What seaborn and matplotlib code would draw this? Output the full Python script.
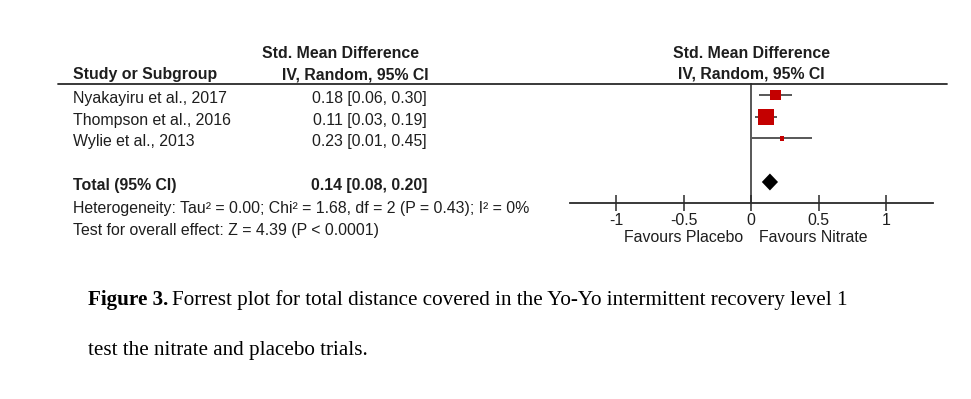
import numpy as np
import pandas as pd
import matplotlib
matplotlib.use("Agg")
import matplotlib.pyplot as plt
from matplotlib.lines import Line2D
import seaborn as sns

# ================= Data =================
studies = ["Nyakayiru et al., 2017", "Thompson et al., 2016", "Wylie et al., 2013"]
smd = [0.18, 0.11, 0.23]
ci_low = [0.06, 0.03, 0.01]
ci_high = [0.30, 0.19, 0.45]

total_label = "Total (95% CI)"
total_smd = 0.14
total_low = 0.08
total_high = 0.20

heterogeneity = "Heterogeneity: Tau\u00b2 = 0.00; Chi\u00b2 = 1.68, df = 2 (P = 0.43); I\u00b2 = 0%"
overall_effect = "Test for overall effect: Z = 4.39 (P < 0.0001)"

x_ticks = [-1, -0.5, 0, 0.5, 1]
x_ticklabels = ["-1", "-0.5", "0", "0.5", "1"]
favours_left = "Favours Placebo"
favours_right = "Favours Nitrate"

caption_bold = "Figure 3."
caption_line1 = "Forrest plot for total distance covered in the Yo-Yo intermittent recovery level 1"
caption_line2 = "test the nitrate and placebo trials."

# ================= Style =================
sns.set_style("white")
plt.rcParams['font.family'] = ['Liberation Sans', 'DejaVu Sans']
TXT = "#1e1e1e"
LINE = "#2a2a2a"
RED = "#C40000"
FS = 11.4
CAP_FS = 15.2

W, H = 971, 399
fig = plt.figure(figsize=(W / 100, H / 100), dpi=100)
fig.patch.set_facecolor("white")


def fx(px):
    return px / W


def fy(py):
    return 1 - py / H


def ftext(px, py, s, **kw):
    kw.setdefault("fontsize", FS)
    kw.setdefault("color", TXT)
    return fig.text(fx(px), fy(py), s, **kw)


# forest axes: x from -1.341 to 1.348, rows 0..2 studies, 4 = total
ax = fig.add_axes([fx(570), fy(203), fx(933) - fx(570), fy(83) - fy(203)])
ax.set_facecolor("none")

n = len(studies)
df = pd.DataFrame({"study": studies, "smd": smd, "lo": ci_low, "hi": ci_high,
                   "row": np.arange(n)})
# inverse-variance weights from the CI widths
se = (df["hi"] - df["lo"]) / 3.92
df["weight"] = 1 / se ** 2
total_row = n + 1

ax.hlines(df["row"], df["lo"], df["hi"], color=LINE, lw=1.1, zorder=2)
sns.scatterplot(data=df, x="smd", y="row", size="weight", sizes=(9, 140), marker="s",
                color=RED, linewidth=0, legend=False, ax=ax, zorder=3)
dh = 0.39
ax.fill([total_low, total_smd, total_high, total_smd],
        [total_row, total_row - dh, total_row, total_row + dh], color="black", lw=0, zorder=3)
ax.axvline(0, color=LINE, lw=1.1, zorder=1)

ax.set_xlim(-1.341, 1.348)
ax.set_ylim(4.966, -0.552)
ax.set_xlabel("")
ax.set_ylabel("")
for s in ["top", "left", "right"]:
    ax.spines[s].set_visible(False)
ax.spines["bottom"].set_color(LINE)
ax.spines["bottom"].set_linewidth(1.3)
ax.set_yticks([])
ax.set_xticks(x_ticks)
ax.set_xticklabels(x_ticklabels)
ax.tick_params(axis="x", bottom=True, direction="inout", length=11, width=1.1, pad=1.5,
               labelsize=FS, colors=LINE, labelcolor=TXT)
ax.grid(False)

ax.annotate(favours_left, xy=(0, 0), xycoords=("data", "axes fraction"),
            xytext=(-8, -39), textcoords="offset pixels", ha="right", va="baseline",
            fontsize=FS, color=TXT, annotation_clip=False)
ax.annotate(favours_right, xy=(0, 0), xycoords=("data", "axes fraction"),
            xytext=(8, -39), textcoords="offset pixels", ha="left", va="baseline",
            fontsize=FS, color=TXT, annotation_clip=False)

# headers
ftext(73, 79, "Study or Subgroup", fontweight="bold", va="baseline")
ftext(340, 57.5, "Std. Mean Difference", fontweight="bold", ha="center", va="baseline")
ftext(355, 79, "IV, Random, 95% CI", fontweight="bold", ha="center", va="baseline")
ax.annotate("Std. Mean Difference", xy=(0, 1), xycoords=("data", "axes fraction"),
            xytext=(0, 25.5), textcoords="offset pixels", ha="center", va="baseline",
            fontsize=FS, fontweight="bold", color=TXT, annotation_clip=False)
ax.annotate("IV, Random, 95% CI", xy=(0, 1), xycoords=("data", "axes fraction"),
            xytext=(0, 4.5), textcoords="offset pixels", ha="center", va="baseline",
            fontsize=FS, fontweight="bold", color=TXT, annotation_clip=False)

# top rule across both panels
fig.add_artist(Line2D([fx(58), fx(947)], [fy(83.5), fy(83.5)], color=LINE, lw=1.3))


def row_text(px, row, s, ha="left", bold=False):
    ax.annotate(s, xy=(fx(px), row), xycoords=("figure fraction", "data"),
                xytext=(0, -8), textcoords="offset pixels", ha=ha, va="baseline",
                fontsize=FS, color=TXT, fontweight="bold" if bold else "normal",
                annotation_clip=False)


for _, r in df.iterrows():
    row_text(73, r["row"], r["study"])
    row_text(427, r["row"], f"{r['smd']:.2f} [{r['lo']:.2f}, {r['hi']:.2f}]", ha="right")
row_text(73, total_row, total_label, bold=True)
row_text(427, total_row, f"{total_smd:.2f} [{total_low:.2f}, {total_high:.2f}]", ha="right", bold=True)

ftext(73, 213.5, heterogeneity, va="baseline")
ftext(73, 234.5, overall_effect, va="baseline")

# caption (bold label followed by regular text on the same baseline)
serif = ['Liberation Serif', 'DejaVu Serif']
cb = fig.text(fx(88), fy(305), caption_bold, fontsize=CAP_FS, fontweight="bold",
              family=serif, color="black", va="baseline")
renderer = fig.canvas.get_renderer()
bw = cb.get_window_extent(renderer).width
fig.text(fx(88 + bw + 4), fy(305), caption_line1, fontsize=CAP_FS, family=serif,
         color="black", va="baseline")
fig.text(fx(88), fy(355), caption_line2, fontsize=CAP_FS, family=serif, color="black",
         va="baseline")

fig.savefig("out.png", dpi=100, facecolor="white")
